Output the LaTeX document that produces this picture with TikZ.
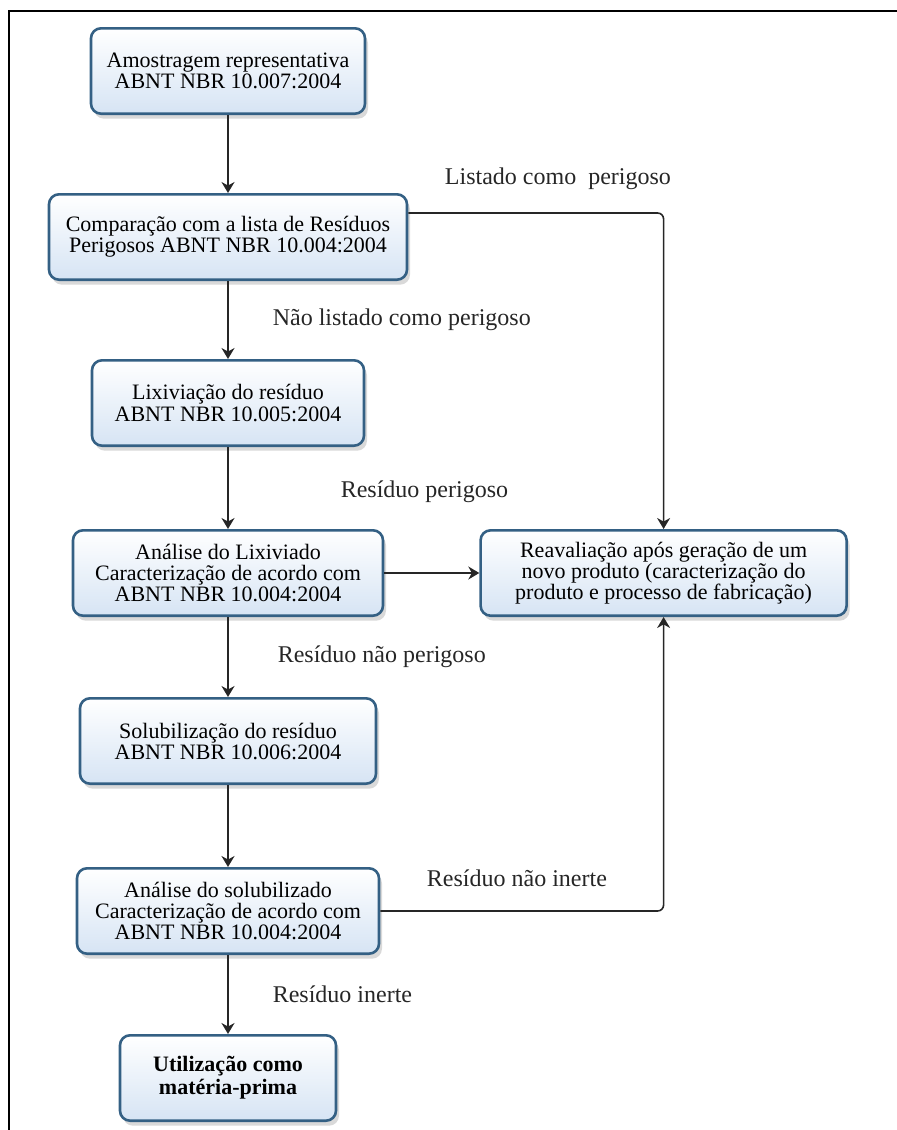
\documentclass[tikz,border=0pt]{standalone}
\usepackage{fontspec}
\setmainfont{Liberation Serif}
\usetikzlibrary{positioning,shadows,arrows.meta}

\definecolor{boxline}{RGB}{52,96,132}
\definecolor{boxfill}{RGB}{214,228,244}

\begin{document}
\begin{tikzpicture}[->,>={Stealth[length=5.5pt,width=6.5pt]},x=0.5pt,y=-0.5pt,
		node distance=40pt,thick,draw=black!85,
		main node/.style={rectangle,rounded corners=5pt,draw=boxline,line width=1.3pt,
			top color=white,bottom color=boxfill,align=center,minimum height=42.7pt,
			font=\fontsize{11}{10.5}\selectfont,
			drop shadow={shadow xshift=1.5pt,shadow yshift=-2.5pt,opacity=0.25,fill=black!60}},
		cond/.style={font=\fontsize{12}{14}\selectfont,inner sep=0pt,text=black!85}]
		
		\useasboundingbox (0,0) rectangle (897,1130);
		\draw[-,line width=1.4pt,black] (9,1130) -- (9,11) -- (897,11);
		
		\node[main node,minimum width=137pt] (amostra) at (228,71) {Amostragem representativa\\ABNT NBR 10.007:2004};
		\node[main node,minimum width=179pt] (compara) [below=39pt of amostra] {Comparação com a lista de Resíduos\\Perigosos ABNT NBR 10.004:2004};
		\node[main node,minimum width=136pt] (lixivia) [below=39pt of compara] {Lixiviação do resíduo\\ABNT NBR 10.005:2004};
		\node[main node,minimum width=155pt] (anlix) [below=41pt of lixivia] {Análise do Lixiviado\\Caracterização de acordo com\\ABNT NBR 10.004:2004};
		\node[main node,minimum width=183pt] (reav) [right=47.5pt of anlix] {Reavaliação após geração de um\\novo produto (caracterização do\\produto e processo de fabricação)};
		\node[main node,minimum width=148pt] (solub) [below=of anlix] {Solubilização do resíduo\\ABNT NBR 10.006:2004};
		\node[main node,minimum width=151pt] (ansol) [below=41pt of solub] {Análise do solubilizado\\Caracterização de acordo com\\ABNT NBR 10.004:2004};
		\node[main node,minimum width=108pt,font=\fontsize{11}{11.5}\selectfont\bfseries] (util) [below=39.5pt of ansol] {Utilização como\\matéria-prima};
		
		\node[cond,anchor=west] (perig) at (340,492) {Resíduo perigoso};
		
		\path
		(amostra) edge (compara)
		(compara) edge node[cond,right=22pt] {Não listado como perigoso} (lixivia)
		(lixivia) edge (anlix)
		(anlix) edge (reav)
		(anlix) edge node[cond,right=24.5pt] {Resíduo não perigoso} (solub)
		(solub) edge (ansol)
		(ansol) edge node[cond,right=22pt] {Resíduo inerte} (util);
		
		\draw[rounded corners=3pt] ([yshift=12pt]compara.east) -| node[cond,pos=0.25,xshift=11pt,yshift=17pt] {Listado como~ perigoso} (reav.north);
		\draw[rounded corners=3pt] (ansol.east) -| node[cond,pos=0.25,xshift=-2.5pt,yshift=16.5pt] {Resíduo não inerte} (reav.south);
\end{tikzpicture}
\end{document}
